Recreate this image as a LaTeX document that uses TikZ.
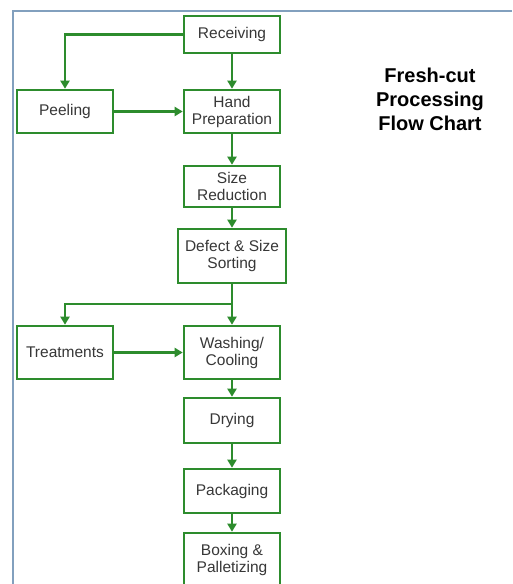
\documentclass[tikz,border=0pt]{standalone}
\usepackage{fontspec}
\setmainfont{Liberation Sans}
\usetikzlibrary{arrows.meta}
\definecolor{flowgreen}{RGB}{45,140,45}
\definecolor{boxtext}{RGB}{55,55,55}
\definecolor{framecol}{RGB}{130,160,190}
\begin{document}
\begin{tikzpicture}[x=1pt,y=-1pt,
  stepbox/.style={draw=flowgreen,line width=2.6pt,fill=white,minimum width=96pt,
    align=center,text=boxtext,font=\fontsize{15.5}{17}\selectfont,inner sep=2pt},
  flow/.style={draw=flowgreen,line width=2.4pt,-{Triangle[length=8pt,width=9pt]}}]
\useasboundingbox (0,0) rectangle (512,584);
\fill[white] (0,0) rectangle (512,584);
\draw[framecol,line width=1.5pt] (512,11) -- (13,11) -- (13,586);

\node[stepbox,minimum height=37pt] (rec) at (232,34.5) {Receiving};
\node[stepbox,minimum height=43pt] (peel) at (65,111.5) {Peeling};
\node[stepbox,minimum height=43pt] (hand) at (232,111.5) {Hand\\Preparation};
\node[stepbox,minimum height=41pt] (size) at (232,186.5) {Size\\Reduction};
\node[stepbox,minimum width=108pt,minimum height=54pt] (def) at (232,256) {Defect \& Size\\Sorting};
\node[stepbox,minimum height=53pt] (treat) at (65,352.5) {Treatments};
\node[stepbox,minimum height=53pt] (wash) at (232,352.5) {Washing/\\Cooling};
\node[stepbox,minimum height=45pt] (dry) at (232,420.5) {Drying};
\node[stepbox,minimum height=44pt] (pack) at (232,491) {Packaging};
\node[stepbox,minimum height=54pt] (box) at (232,560) {Boxing \&\\Palletizing};

\node[align=center,font=\fontsize{20}{24}\selectfont\bfseries,text=black] (title) at (430,99) {Fresh-cut\\Processing\\Flow Chart};

\coordinate (br) at (232,304);

\draw[flow] (rec.west) -| (peel.north);
\draw[flow] (rec.south) -- (hand.north);
\draw[flow] (peel.east) -- (hand.west);
\draw[flow] (hand.south) -- (size.north);
\draw[flow] (size.south) -- (def.north);
\draw[flow] (def.south) -- (wash.north);
\draw[flow] (br) -| (treat.north);
\draw[flow] (treat.east) -- (wash.west);
\draw[flow] (wash.south) -- (dry.north);
\draw[flow] (dry.south) -- (pack.north);
\draw[flow] (pack.south) -- (box.north);
\end{tikzpicture}
\end{document}
